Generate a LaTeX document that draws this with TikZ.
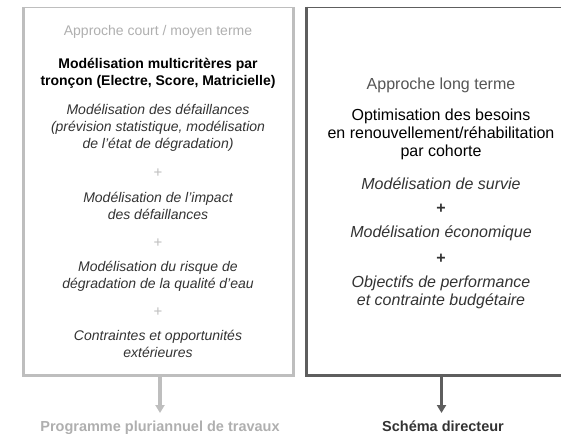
\documentclass[tikz,border=0pt]{standalone}
\usepackage{fontspec}
\setmainfont{Liberation Sans}
\usetikzlibrary{arrows.meta}
\definecolor{lgray}{HTML}{BEBEBE}
\definecolor{ltxt}{HTML}{AFAFAF}
\definecolor{itemcol}{HTML}{333333}
\definecolor{dgray}{HTML}{5E5E5E}
\definecolor{rtxt}{HTML}{555555}
\begin{document}
\begin{tikzpicture}[x=1pt,y=-1pt,
  lthin/.style={draw=lgray,line width=1.2pt},
  lthick/.style={draw=lgray,line width=3pt},
  rthin/.style={draw=dgray,line width=1.6pt},
  rthick/.style={draw=dgray,line width=3pt},
  txt/.style={inner sep=0pt,anchor=base},
  ltitle/.style={txt,text=ltxt,font=\fontsize{14}{17}\selectfont},
  lhead/.style={txt,text=black,font=\fontsize{14}{17}\selectfont\bfseries},
  litem/.style={txt,text=itemcol,font=\fontsize{14}{17}\selectfont\itshape},
  lplus/.style={txt,text=lgray,font=\fontsize{15}{17}\selectfont},
  rtitle/.style={txt,text=rtxt,font=\fontsize{16}{19}\selectfont},
  rhead/.style={txt,text=black,font=\fontsize{16}{19}\selectfont},
  ritem/.style={txt,text=itemcol,font=\fontsize{16}{19}\selectfont\itshape},
  rplus/.style={txt,text=itemcol,font=\fontsize{16}{19}\selectfont\bfseries},
  llab/.style={txt,text=ltxt,font=\fontsize{14.5}{17}\selectfont\bfseries},
  rlab/.style={txt,text=itemcol,font=\fontsize{14.5}{17}\selectfont\bfseries},
  larrow/.style={draw=lgray,line width=3.5pt,-{Triangle[length=8pt,width=9pt]}},
  rarrow/.style={draw=dgray,line width=3.5pt,-{Triangle[length=8pt,width=9pt]}}
]
\useasboundingbox (0,0) rectangle (561,433);
% left box
\draw[lthin] (23,7.5) -- (293.5,7.5);
\draw[lthick] (23,6.9) -- (23,375) -- (293.5,375) -- (293.5,6.9);
% right box
\draw[rthin] (306.5,7.5) -- (580,7.5);
\draw[rthick] (306.5,6.7) -- (306.5,375) -- (580,375);
% left texts
\def\lx{158}
\node[ltitle] (lt) at (\lx,36) {Approche court / moyen terme};
\node[lhead] (lh1) at (\lx,69) {Modélisation multicritères par};
\node[lhead] (lh2) at (\lx,86) {tronçon (Electre, Score, Matricielle)};
\node[litem] (la1) at (\lx,114) {Modélisation des défaillances};
\node[litem] (la2) at (\lx,131) {(prévision statistique, modélisation};
\node[litem] (la3) at (\lx,148) {de l’état de dégradation)};
\node[lplus] (lp1) at (\lx,177) {+};
\node[litem] (lb1) at (\lx,202) {Modélisation de l’impact};
\node[litem] (lb2) at (\lx,219) {des défaillances};
\node[lplus] (lp2) at (\lx,247) {+};
\node[litem] (lc1) at (\lx,271) {Modélisation du risque de};
\node[litem] (lc2) at (\lx,288) {dégradation de la qualité d’eau};
\node[lplus] (lp3) at (\lx,316) {+};
\node[litem] (ld1) at (\lx,340) {Contraintes et opportunités};
\node[litem] (ld2) at (\lx,357) {extérieures};
% right texts
\def\rx{441}
\node[rtitle] (rt) at (\rx,89) {Approche long terme};
\node[rhead] (rh1) at (\rx,120) {Optimisation des besoins};
\node[rhead] (rh2) at (\rx,138) {en renouvellement/réhabilitation};
\node[rhead] (rh3) at (\rx,156) {par cohorte};
\node[ritem] (ra) at (\rx,189) {Modélisation de survie};
\node[rplus] (rp1) at (\rx,213) {+};
\node[ritem] (rb) at (\rx,237) {Modélisation économique};
\node[rplus] (rp2) at (\rx,263) {+};
\node[ritem] (rc1) at (\rx,287) {Objectifs de performance};
\node[ritem] (rc2) at (\rx,305) {et contrainte budgétaire};
% outputs
\coordinate (lbot) at (160,375);
\coordinate (rbot) at (441.5,375);
\node[llab] (llabel) at (160,431) {Programme pluriannuel de travaux};
\node[rlab] (rlabel) at (443,431) {Schéma directeur};
\coordinate (lend) at (160,413);
\coordinate (rend) at (441.5,413);
\draw[larrow] (lbot) -- (lend);
\draw[rarrow] (rbot) -- (rend);
\end{tikzpicture}
\end{document}
